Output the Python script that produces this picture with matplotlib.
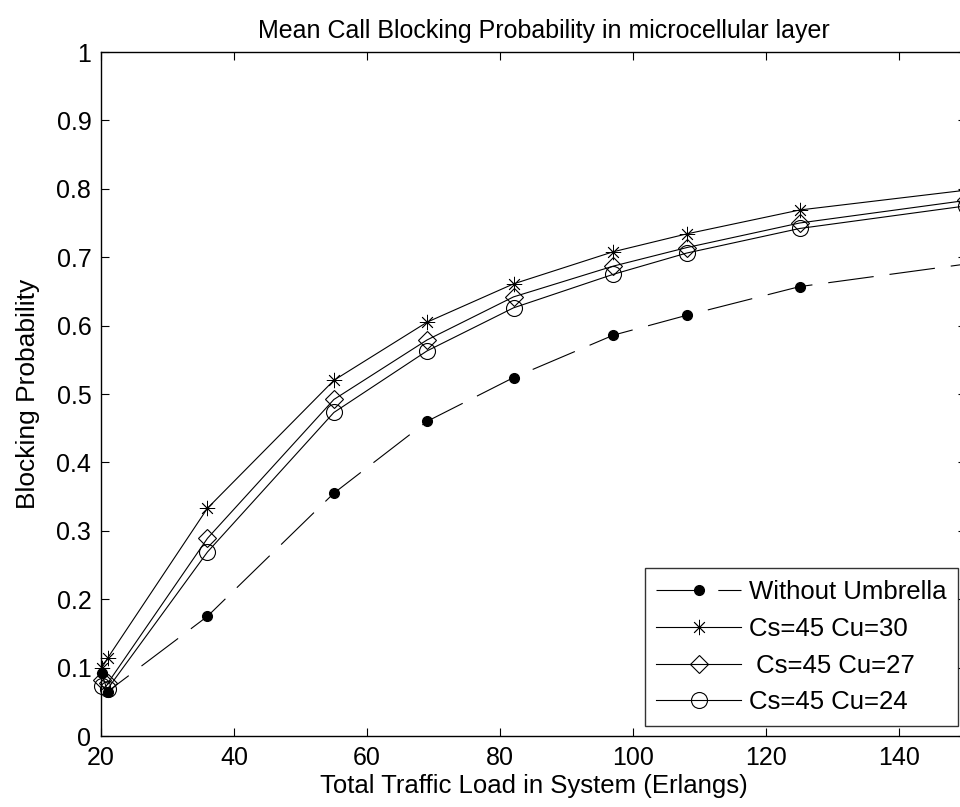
import matplotlib
matplotlib.use("Agg")
import matplotlib.pyplot as plt

plt.rcParams['font.family'] = ['Liberation Sans', 'DejaVu Sans']
plt.rcParams['lines.scale_dashes'] = False

# Data
load = [20.1, 21.0, 36.0, 55.0, 69.0, 82.0, 97.0, 108.0, 125.0, 150.0]
without_umbrella = [0.092, 0.065, 0.175, 0.355, 0.460, 0.524, 0.586, 0.615, 0.657, 0.690]
cu30 = [0.099, 0.114, 0.333, 0.520, 0.605, 0.661, 0.708, 0.734, 0.769, 0.798]
cu27 = [0.082, 0.077, 0.289, 0.492, 0.579, 0.642, 0.687, 0.714, 0.750, 0.783]
cu24 = [0.073, 0.069, 0.269, 0.473, 0.563, 0.626, 0.675, 0.706, 0.742, 0.775]

labels = ["Without Umbrella", "Cs=45 Cu=30", " Cs=45 Cu=27", "Cs=45 Cu=24"]
title = "Mean Call Blocking Probability in microcellular layer"
xlabel = "Total Traffic Load in System (Erlangs)"
ylabel = "Blocking Probability"
xticks = [20, 40, 60, 80, 100, 120, 140]
yticks = [0, 0.1, 0.2, 0.3, 0.4, 0.5, 0.6, 0.7, 0.8, 0.9, 1]
yticklabels = ["0", "0.1", "0.2", "0.3", "0.4", "0.5", "0.6", "0.7", "0.8", "0.9", "1"]

fig = plt.figure(figsize=(9.6, 8.07), dpi=100)
ax = fig.add_axes([101/960, 1 - 736/807, 865/960, 684/807])

lw = 0.8
ax.plot(load, without_umbrella, color='black', lw=lw, dashes=(33, 11.5),
        marker='o', markersize=7, markerfacecolor='black', markeredgecolor='black',
        label=labels[0], clip_on=False)
ax.plot(load, cu30, color='black', lw=lw, marker=(8, 2, 0), markersize=11,
        markeredgewidth=0.6, label=labels[1], clip_on=False)
ax.plot(load, cu27, color='black', lw=lw, marker='D', markersize=9,
        markerfacecolor='none', markeredgewidth=0.8, label=labels[2], clip_on=False)
ax.plot(load, cu24, color='black', lw=lw, marker='o', markersize=11.5,
        markerfacecolor='none', markeredgewidth=0.8, label=labels[3], clip_on=False)

ax.set_xlim(20, 150)
ax.set_ylim(0, 1)
ax.set_xticks(xticks)
ax.set_yticks(yticks)
ax.set_yticklabels(yticklabels)
ax.tick_params(direction='in', length=6, width=0.8, top=True, right=True,
               labelsize=18, pad=7, colors='black')
for s in ax.spines.values():
    s.set_linewidth(1.0)

ax.set_title(title, fontsize=18, pad=10, x=0.5 + 10/865)
ax.set_xlabel(xlabel, fontsize=18.5, labelpad=3)
ax.set_ylabel(ylabel, fontsize=19, labelpad=12)

leg = ax.legend(loc='lower right', bbox_to_anchor=((958 - 101) / 865, 10 / 684),
                fontsize=18.5, frameon=True, fancybox=False, edgecolor='black',
                handlelength=3.3, handletextpad=0.3, labelspacing=0.5,
                borderpad=0.45, borderaxespad=0)
leg.get_frame().set_linewidth(1.0)

fig.savefig("out.png", dpi=100)
